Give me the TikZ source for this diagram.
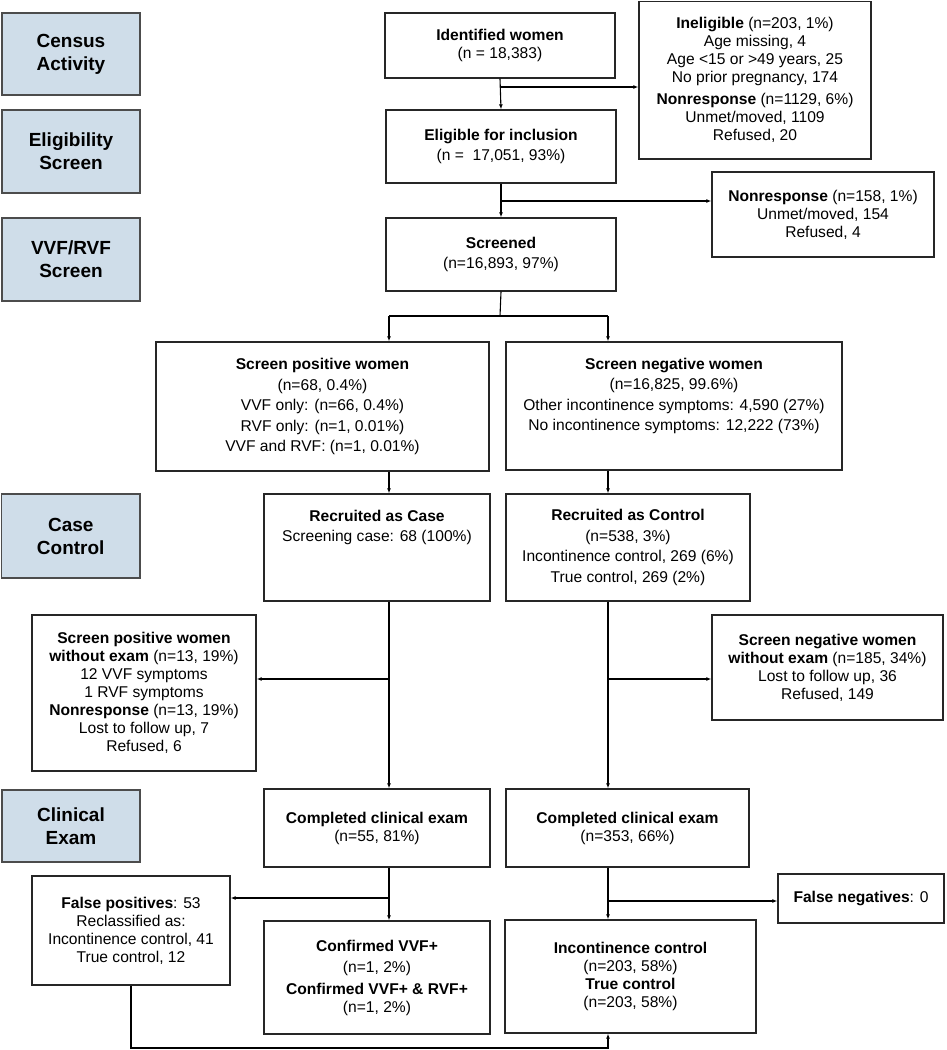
\documentclass[tikz,border=0pt]{standalone}
\usepackage{fontspec}
\setmainfont{Liberation Sans}
\usetikzlibrary{arrows.meta,calc}
\definecolor{stageblue}{RGB}{207,221,233}
\newcommand\mkbox[7]{\node[#6, minimum width={#4-#2}, minimum height={#5-#3}] (#1) at ({(#2+#4)/2},{(#3+#5)/2}) {#7};}
\begin{document}
\begin{tikzpicture}[x=1pt,y=-1pt,
  box/.style={draw=black!85, line width=1.4pt, fill=white, align=center, inner sep=0pt, font=\fontsize{15.6}{18}\selectfont},
  wide/.style={box, font=\fontsize{15.6}{20.5}\selectfont},
  stage/.style={draw=black!70, line width=1.4pt, fill=stageblue, align=center, inner sep=0pt, font=\fontsize{19}{23}\selectfont\bfseries},
  txt/.style={align=center, inner sep=0pt, font=\fontsize{15.6}{20.5}\selectfont},
  arr/.style={-{Latex[length=5pt,width=4pt]}, line width=1.1pt},
  conn/.style={line width=1.1pt},
]
\useasboundingbox (0,0) rectangle (946,1050);
\fill[white] (0,0) rectangle (946,1050);

% stage boxes
\mkbox{census}{2}{13}{140}{95}{stage}{Census\\Activity}
\mkbox{eligst}{2}{110}{140}{193}{stage}{Eligibility\\Screen}
\mkbox{vvfst}{2}{218}{140}{301}{stage}{VVF/RVF\\Screen}
\mkbox{casest}{1.5}{494}{140}{578}{stage}{Case\\Control}
\mkbox{clinst}{2}{790}{140}{862}{stage}{Clinical\\Exam}

% flow boxes
\mkbox{idw}{385}{13}{615}{78}{box}{\textbf{Identified women}\\(n = 18,383)}
\mkbox{inel}{639}{1.5}{871}{159}{box}{\textbf{Ineligible} (n=203, 1\%)\\Age missing, 4\\Age <15 or >49 years, 25\\No prior pregnancy, 174\\[4pt]\textbf{Nonresponse} (n=1129, 6\%)\\Unmet/moved, 1109\\Refused, 20}
\mkbox{elig}{386}{110}{616}{183}{wide}{\textbf{Eligible for inclusion}\\(n = \ 17,051, 93\%)}
\mkbox{nrtwo}{712}{172}{934}{257}{box}{\textbf{Nonresponse} (n=158, 1\%)\\Unmet/moved, 154\\Refused, 4}
\mkbox{scr}{386}{218}{616}{291}{wide}{\textbf{Screened}\\(n=16,893, 97\%)}
\mkbox{spos}{156}{342}{489}{471}{wide}{\textbf{Screen positive women}\\(n=68, 0.4\%)\\VVF only: (n=66, 0.4\%)\\RVF only: (n=1, 0.01\%)\\VVF and RVF: (n=1, 0.01\%)}
\mkbox{sneg}{506}{342}{842}{470}{box}{}
\node[txt] (snegt) at (674,396) {\textbf{Screen negative women}\\(n=16,825, 99.6\%)\\Other incontinence symptoms: 4,590 (27\%)\\No incontinence symptoms: 12,222 (73\%)};
\mkbox{case}{264}{494}{490}{601}{box}{}
\node[txt] (caset) at (377,527.5) {\textbf{Recruited as Case}\\Screening case: 68 (100\%)};
\mkbox{ctrl}{506}{494}{750}{601}{wide}{\textbf{Recruited as Control}\\(n=538, 3\%)\\Incontinence control, 269 (6\%)\\True control, 269 (2\%)}
\mkbox{sposx}{32}{615}{256}{771}{box}{\textbf{Screen positive women}\\\textbf{without exam} (n=13, 19\%)\\12 VVF symptoms\\1 RVF symptoms\\\textbf{Nonresponse} (n=13, 19\%)\\Lost to follow up, 7\\Refused, 6}
\mkbox{snegx}{712}{615}{943}{720}{box}{\textbf{Screen negative women}\\\textbf{without exam} (n=185, 34\%)\\Lost to follow up, 36\\Refused, 149}
\mkbox{compL}{264}{789}{490}{867}{box}{\textbf{Completed clinical exam}\\(n=55, 81\%)}
\mkbox{compR}{506}{789}{749}{867}{box}{\textbf{Completed clinical exam}\\(n=353, 66\%)}
\mkbox{fp}{32}{876}{230}{985}{box}{\textbf{False positives}: 53\\Reclassified as:\\Incontinence control, 41\\True control, 12}
\mkbox{fn}{778}{874}{944}{923}{box}{\textbf{False negatives}: 0}
\mkbox{conf}{264}{921}{490}{1034}{box}{\textbf{Confirmed VVF+}\\[3.5pt](n=1, 2\%)\\[3.5pt]\textbf{Confirmed VVF+ \& RVF+}\\(n=1, 2\%)}
\mkbox{inc}{505}{920}{756}{1033}{box}{\textbf{Incontinence control}\\(n=203, 58\%)\\\textbf{True control}\\(n=203, 58\%)}

% connectors
\coordinate (jA) at (500,87);
\coordinate (jB) at (500,201);
\coordinate (split) at (500,316);
\coordinate (colL) at (389,316);
\coordinate (colR) at (608,316);
\coordinate (jC) at (389,679);
\coordinate (jD) at (608,679);
\coordinate (jE) at (389,898);
\coordinate (jF) at (608,901);
\coordinate (bot) at (131,1048);

\draw[arr] (idw.south) -- (elig.north);
\draw[arr] (jA) -- (jA -| inel.west);
\draw[arr] (elig.south) -- (scr.north);
\draw[arr] (jB) -- (jB -| nrtwo.west);
\draw[conn] (scr.south) -- (split);
\draw[conn] (colL) -- (colR);
\draw[arr] (colL) -- (colL |- spos.north);
\draw[arr] (colR) -- (colR |- sneg.north);
\draw[arr] (colL |- spos.south) -- (colL |- case.north);
\draw[arr] (colR |- sneg.south) -- (colR |- ctrl.north);
\draw[arr] (colL |- case.south) -- (colL |- compL.north);
\draw[arr] (colR |- ctrl.south) -- (colR |- compR.north);
\draw[arr] (jC) -- (jC -| sposx.east);
\draw[arr] (jD) -- (jD -| snegx.west);
\draw[arr] (colL |- compL.south) -- (colL |- conf.north);
\draw[arr] (colR |- compR.south) -- (colR |- inc.north);
\draw[arr] (jE) -- (jE -| fp.east);
\draw[arr] (jF) -- (jF -| fn.west);
\draw[arr] (fp.south) -- (bot) -- (bot -| colR) -- (colR |- inc.south);
\end{tikzpicture}
\end{document}
